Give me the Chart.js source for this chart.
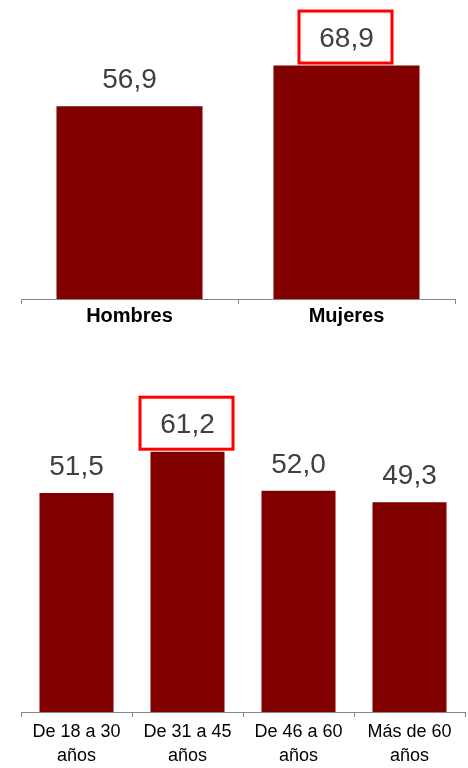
<!DOCTYPE html>
<html>
<head>
<meta charset="utf-8">
<script src="https://cdn.jsdelivr.net/npm/chart.js@4/dist/chart.umd.min.js"></script>
<style>
  html, body { margin: 0; padding: 0; background: #fff; overflow: hidden; }
  #wrap { position: relative; width: 468px; height: 768px; overflow: hidden; }
  canvas { position: absolute; left: 0; }
  #cSexo { top: 0; }
  #cEdad { top: 332px; }
</style>
</head>
<body>
<div id="wrap">
  <canvas id="cSexo" width="468" height="332"></canvas>
  <canvas id="cEdad" width="468" height="439"></canvas>
</div>
<script>
  // Datos
  const sexoLabels = ['Hombres', 'Mujeres'];
  const sexoValues = [56.9, 68.9];

  const edadLabels = [['De 18 a 30', 'años'], ['De 31 a 45', 'años'], ['De 46 a 60', 'años'], ['Más de 60', 'años']];
  const edadValues = [51.5, 61.2, 52.0, 49.3];

  const FONT = '"Liberation Sans", Arial, sans-serif';
  const BAR = '#800000';
  const AXIS = '#868686';

  const fmt = (v) => v.toFixed(1).replace('.', ',');

  // rótulos de valor + recuadro rojo sobre el máximo
  const etiquetas = {
    id: 'etiquetas',
    afterDatasetsDraw(chart) {
      const ctx = chart.ctx;
      const vals = chart.data.datasets[0].data;
      const maxIdx = vals.indexOf(Math.max(...vals));
      const meta = chart.getDatasetMeta(0);
      ctx.save();
      ctx.font = '28px ' + FONT;
      ctx.fillStyle = '#404040';
      ctx.textAlign = 'center';
      ctx.textBaseline = 'middle';
      meta.data.forEach((bar, i) => {
        const cy = bar.y - 26;
        ctx.fillText(fmt(vals[i]), bar.x, cy);
        if (i === maxIdx) {
          ctx.strokeStyle = '#ff0000';
          ctx.lineWidth = 3;
          ctx.strokeRect(bar.x - 47.5, cy - 28.5, 93, 52);
        }
      });
      ctx.restore();
    }
  };

  function barras(id, labels, values, opts) {
    return new Chart(document.getElementById(id), {
      type: 'bar',
      data: {
        labels: labels,
        datasets: [{
          data: values,
          backgroundColor: BAR,
          borderWidth: 0,
          barPercentage: opts.barPct,
          categoryPercentage: 1
        }]
      },
      options: {
        responsive: false,
        animation: false,
        layout: { padding: opts.padding },
        plugins: { legend: { display: false }, tooltip: { enabled: false } },
        scales: {
          x: {
            grid: { display: true, drawOnChartArea: false, drawTicks: true, tickLength: 5, color: AXIS, offset: true },
            border: { display: true, color: AXIS, width: 1 },
            ticks: {
              color: '#000',
              padding: opts.tickPad,
              font: { family: FONT, size: opts.tickSize, weight: opts.tickWeight, lineHeight: opts.lineHeight },
              maxRotation: 0, autoSkip: false
            }
          },
          y: { display: false, min: 0, max: opts.max }
        }
      },
      plugins: [etiquetas]
    });
  }

  barras('cSexo', sexoLabels, sexoValues, {
    barPct: 0.673, max: 85,
    padding: { top: 11, bottom: 4, left: 21, right: 13 },
    tickPad: 0, tickSize: 20, tickWeight: 'bold', lineHeight: 1.2
  });

  barras('cEdad', edadLabels, edadValues, {
    barPct: 0.667, max: 75,
    padding: { top: 61, bottom: 0, left: 21, right: 3 },
    tickPad: 3, tickSize: 18, tickWeight: 'normal', lineHeight: 1.333
  });
</script>
</body>
</html>
